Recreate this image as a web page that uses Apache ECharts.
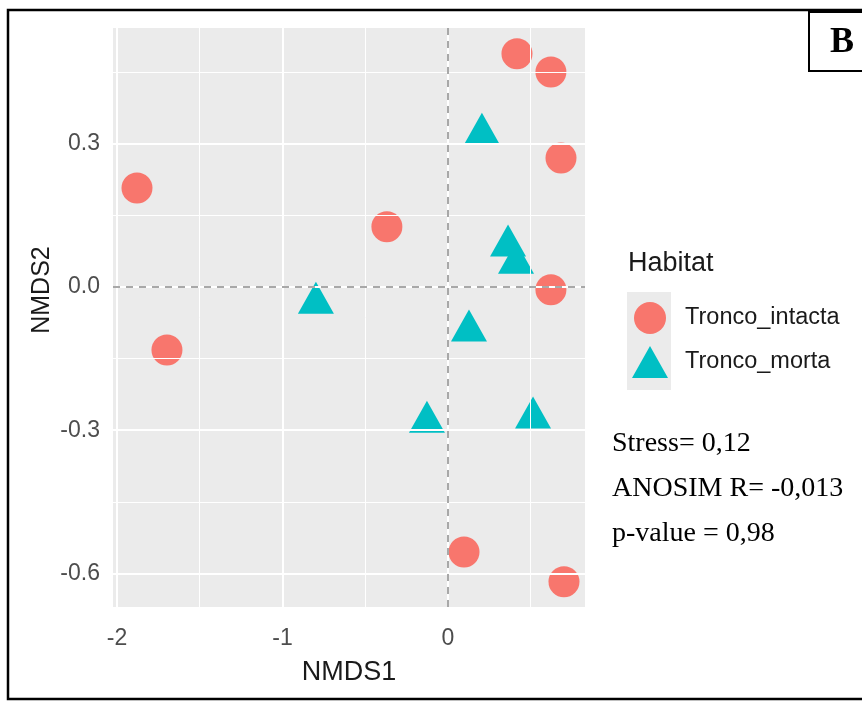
<!DOCTYPE html>
<html>
<head>
<meta charset="utf-8">
<script src="https://cdn.jsdelivr.net/npm/echarts@6/dist/echarts.min.js"></script>
<style>
html,body{margin:0;padding:0;background:#fff;}
#chart{width:862px;height:703px;}
</style>
</head>
<body>
<div id="chart"></div>
<script>
// ---- data ----
const seriesNames = ['Tronco_intacta', 'Tronco_morta'];
const intactaX = [-1.879, -1.698, -0.369, 0.417, 0.622, 0.683, 0.622, 0.097, 0.701];
const intactaY = [0.207, -0.132, 0.126, 0.488, 0.450, 0.270, -0.006, -0.555, -0.617];
const mortaX = [0.205, 0.363, 0.411, -0.798, 0.127, -0.127, 0.514];
const mortaY = [0.320, 0.086, 0.050, -0.034, -0.092, -0.283, -0.274];
const xTicks = [-2, -1, 0];
const yTicks = [-0.6, -0.3, 0, 0.3];
const xMinor = [-1.5, -0.5, 0.5];
const yMinor = [-0.45, -0.15, 0.15, 0.45];
const xRange = [-2.024, 0.828];
const yRange = [-0.670, 0.542];
const statsLines = ['Stress= 0,12', 'ANOSIM R= -0,013', 'p-value = 0,98'];

const zip = (a, b) => a.map((v, i) => [v, b[i]]);

const gridLines = [];
xMinor.forEach(v => gridLines.push({xAxis: v, lineStyle: {color: '#fff', width: 1, type: 'solid'}}));
yMinor.forEach(v => gridLines.push({yAxis: v, lineStyle: {color: '#fff', width: 1, type: 'solid'}}));
xTicks.forEach(v => gridLines.push({xAxis: v, lineStyle: {color: '#fff', width: 2, type: 'solid'}}));
yTicks.forEach(v => gridLines.push({yAxis: v, lineStyle: {color: '#fff', width: 2, type: 'solid'}}));

const chart = echarts.init(document.getElementById('chart'), null, {renderer: 'canvas'});
const sans = '"Liberation Sans", Arial, sans-serif';
const serif = '"Liberation Serif", "Times New Roman", serif';

chart.setOption({
  animation: false,
  backgroundColor: '#fff',
  title: {
    text: 'Habitat', left: 628, top: 250, padding: 0,
    textStyle: {fontFamily: sans, fontSize: 27, fontWeight: 'normal', color: '#1a1a1a'}
  },
  legend: {
    data: seriesNames,
    orient: 'vertical', left: 632, top: 302, padding: 0,
    itemWidth: 36, itemHeight: 32, itemGap: 12,
    textStyle: {fontFamily: sans, fontSize: 23.5, color: '#1a1a1a', padding: [6, 0, 0, 12]}
  },
  grid: {left: 113, top: 28, width: 472, height: 579, show: true, backgroundColor: '#EBEBEB', borderWidth: 0},
  xAxis: {
    type: 'value', min: xRange[0], max: xRange[1],
    name: 'NMDS1', nameLocation: 'middle', nameGap: 52,
    nameTextStyle: {fontFamily: sans, fontSize: 27, color: '#1a1a1a'},
    axisLine: {show: false},
    splitLine: {show: false},
    axisTick: {show: true, customValues: xTicks, length: 6, lineStyle: {color: '#333', width: 2}},
    axisLabel: {customValues: xTicks, margin: 20, fontFamily: sans, fontSize: 23, color: '#4D4D4D',
      formatter: v => String(v)}
  },
  yAxis: {
    type: 'value', min: yRange[0], max: yRange[1],
    axisLine: {show: false},
    splitLine: {show: false},
    axisTick: {show: true, customValues: yTicks, length: 6, lineStyle: {color: '#333', width: 2}},
    axisLabel: {customValues: yTicks, margin: 13, fontFamily: sans, fontSize: 23, color: '#4D4D4D',
      formatter: v => v.toFixed(1)}
  },
  graphic: [
    {type: 'rect', shape: {x: 8, y: 10, width: 880, height: 689}, style: {fill: null, stroke: '#000', lineWidth: 2.5}, silent: true, z: 100},
    {type: 'rect', shape: {x: 809, y: 12, width: 70, height: 59}, style: {fill: '#fff', stroke: '#000', lineWidth: 2}, z: 100},
    {type: 'text', x: 842, y: 43, style: {text: 'B', font: 'bold 36px ' + serif, fill: '#000', textAlign: 'center', textVerticalAlign: 'middle'}, z: 101},
    {type: 'rect', shape: {x: 627, y: 292, width: 44, height: 98}, style: {fill: '#EBEBEB'}, z: -1},
    {type: 'text', x: 42, y: 290, rotation: Math.PI / 2, style: {text: 'NMDS2', font: '25px ' + sans, fill: '#1a1a1a', textAlign: 'center', textVerticalAlign: 'middle'}},
    {type: 'text', x: 612, y: 444, style: {text: statsLines[0], font: '28px ' + serif, fill: '#000', textVerticalAlign: 'middle'}},
    {type: 'text', x: 612, y: 489, style: {text: statsLines[1], font: '28px ' + serif, fill: '#000', textVerticalAlign: 'middle'}},
    {type: 'text', x: 612, y: 534, style: {text: statsLines[2], font: '28px ' + serif, fill: '#000', textVerticalAlign: 'middle'}}
  ],
  series: [
    {
      name: 'gridlines', type: 'scatter', data: [], z: 1, silent: true,
      markLine: {silent: true, symbol: ['none', 'none'], label: {show: false}, data: gridLines}
    },
    {
      name: 'zerolines', type: 'scatter', data: [], z: 1, silent: true,
      markLine: {silent: true, symbol: ['none', 'none'], label: {show: false},
        lineStyle: {color: '#A8A8A8', width: 2, type: [7, 6]},
        data: [{xAxis: 0}, {yAxis: 0}]}
    },
    {
      name: seriesNames[0], type: 'scatter', z: 3,
      data: zip(intactaX, intactaY),
      symbol: 'circle', symbolSize: 31,
      itemStyle: {color: '#F8766D', opacity: 1}
    },
    {
      name: seriesNames[1], type: 'scatter', z: 3,
      data: zip(mortaX, mortaY),
      symbol: 'triangle', symbolSize: [36, 32], symbolOffset: [0, -5.3],
      itemStyle: {color: '#00BFC4', opacity: 1}
    }
  ]
});
</script>
</body>
</html>
